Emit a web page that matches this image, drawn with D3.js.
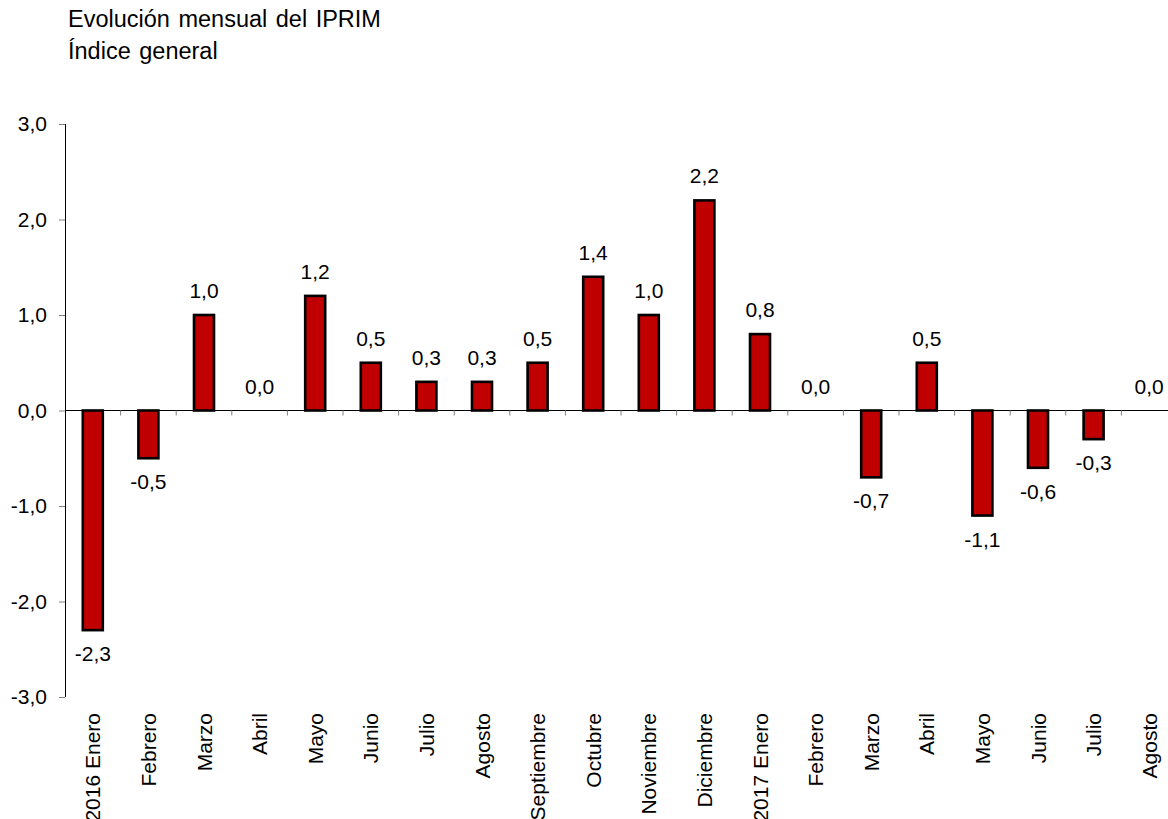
<!DOCTYPE html>
<html>
<head>
<meta charset="utf-8">
<script src="https://cdnjs.cloudflare.com/ajax/libs/d3/7.8.5/d3.min.js"></script>
<style>
  body { margin: 0; background: #fff; }
  svg { display: block; font-family: "Liberation Sans", Arial, sans-serif; }
</style>
</head>
<body>
<svg width="1168" height="819"></svg>
<script>
var months = ["2016 Enero", "Febrero", "Marzo", "Abril", "Mayo", "Junio", "Julio", "Agosto",
              "Septiembre", "Octubre", "Noviembre", "Diciembre", "2017 Enero", "Febrero",
              "Marzo", "Abril", "Mayo", "Junio", "Julio", "Agosto"];
var values = [-2.3, -0.5, 1.0, 0.0, 1.2, 0.5, 0.3, 0.3, 0.5, 1.4, 1.0, 2.2, 0.8, 0.0,
              -0.7, 0.5, -1.1, -0.6, -0.3, 0.0];
var yTicks = [-3, -2, -1, 0, 1, 2, 3];
var titleLines = ["Evolución mensual del IPRIM", "Índice general"];

var svg = d3.select("svg"),
    margin = {top: 124, left: 65},
    width = 1112,
    height = 573;

var fmt = function(d) { return d.toFixed(1).replace(".", ","); };

// title
svg.selectAll(".title")
    .data(titleLines)
  .enter().append("text")
    .attr("class", "title")
    .attr("x", 68)
    .attr("y", function(d, i) { return 27 + i * 32; })
    .attr("font-size", 23.5)
    .attr("word-spacing", 2)
    .attr("fill", "#000")
    .text(function(d) { return d; });

var x = d3.scaleBand().domain(d3.range(months.length)).range([0, width]),
    y = d3.scaleLinear().domain([-3, 3]).range([height, 0]);

var g = svg.append("g")
    .attr("transform", "translate(" + margin.left + "," + margin.top + ")");

// y axis
var yAxis = g.append("g")
    .call(d3.axisLeft(y).tickValues(yTicks).tickSize(6).tickPadding(12).tickFormat(fmt));
yAxis.select(".domain").attr("stroke", "#000").attr("d", "M0.5,0V" + height);
yAxis.selectAll(".tick line").attr("stroke", "#808080");
yAxis.selectAll(".tick text").attr("font-size", 21).attr("fill", "#000")
    .attr("font-family", "Liberation Sans, Arial, sans-serif");

// bars
var barW = 20;
g.selectAll(".bar")
    .data(values)
  .enter().append("rect")
    .attr("class", "bar")
    .attr("x", function(d, i) { return x(i) + x.bandwidth() / 2 - barW / 2; })
    .attr("y", function(d) { return y(Math.max(0, d)); })
    .attr("width", barW)
    .attr("height", function(d) { return Math.abs(y(d) - y(0)); })
    .attr("fill", "#C00000")
    .attr("stroke", "#000")
    .attr("stroke-width", 2.6);

// zero line with small ticks between categories
g.append("line")
    .attr("x1", 0).attr("x2", width)
    .attr("y1", y(0)).attr("y2", y(0))
    .attr("stroke", "#000");

g.selectAll(".xtick")
    .data(d3.range(1, months.length))
  .enter().append("line")
    .attr("class", "xtick")
    .attr("x1", function(d) { return x(d); })
    .attr("x2", function(d) { return x(d); })
    .attr("y1", y(0))
    .attr("y2", y(0) + 5)
    .attr("stroke", "#808080");

// value labels
g.selectAll(".val")
    .data(values)
  .enter().append("text")
    .attr("class", "val")
    .attr("text-anchor", "middle")
    .attr("font-size", 21)
    .attr("x", function(d, i) { return x(i) + x.bandwidth() / 2; })
    .attr("y", function(d) { return d < 0 ? y(d) + 31 : y(d) - 17; })
    .text(fmt);

// category labels
g.selectAll(".cat")
    .data(months)
  .enter().append("text")
    .attr("class", "cat")
    .attr("text-anchor", "end")
    .attr("font-size", 21)
    .attr("transform", function(d, i) {
        var xt = x(i) + x.bandwidth() / 2 + 7.5;
        return "translate(" + xt + "," + (height + 16) + ") rotate(-90)";
    })
    .text(function(d) { return d; });
</script>
</body>
</html>
